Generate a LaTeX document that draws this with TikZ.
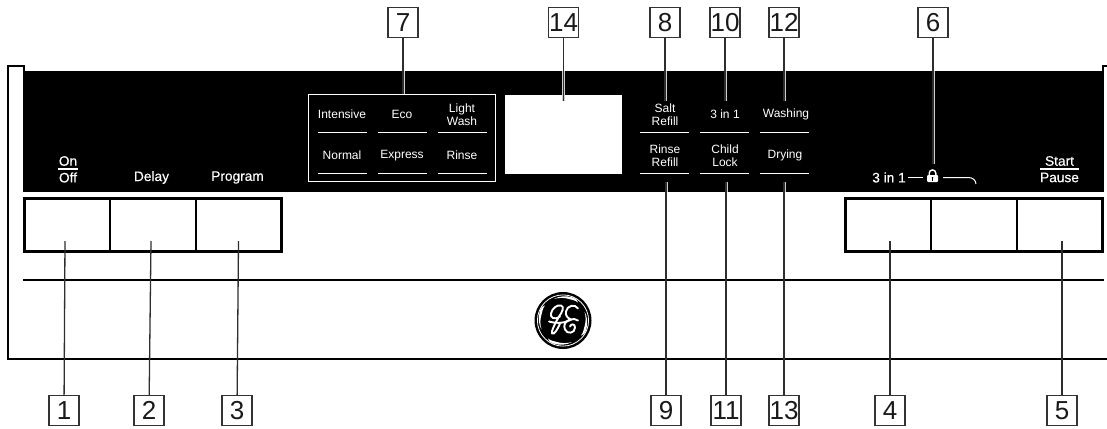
\documentclass[tikz,border=0pt]{standalone}
\usepackage{fontspec}
\setmainfont{Liberation Sans}
\newfontface\keyface{Liberation Sans}[FakeBold=0.25]
\newcommand{\smalltxt}{\fontsize{12}{13.2}\selectfont}
\newcommand{\midtxt}{\keyface\fontsize{13.7}{15}\selectfont}
\tikzset{
  numbox/.style={draw=black!80,line width=1.2pt,fill=white,minimum width=30pt,minimum height=30pt,inner sep=0pt,font=\fontsize{26}{26}\selectfont,text=black!90},
  paneltxt/.style={text=white,font=\smalltxt,align=center,inner sep=0pt},
  keytxt/.style={text=white,font=\midtxt,align=center,inner sep=0pt},
  rulew/.style={draw=white,line width=1pt},
  heavy/.style={draw=black,line width=2.2pt},
  leader/.style={draw=black!82,line width=1.3pt},
  halo/.style={draw=white!80!black,line width=3pt},
  logoline/.style={draw=white,line width=1.9pt,line cap=round,line join=round},
}
\begin{document}
\begin{tikzpicture}[x=1pt,y=-1pt]
\useasboundingbox (0,0) rectangle (1107,428);
% housing
\draw[heavy] (24,71) -- (24,66) -- (8,66) -- (8,359) -- (1107,359);
\draw[heavy] (1103,71) -- (1103,66) -- (1107,66);
\fill[black] (23,71) rectangle (1104,191.5);
\node[fill=white,minimum width=117pt,minimum height=79pt,inner sep=0pt] (display) at (563.5,134.5) {};
% button strips
\draw[black,line width=3pt] (24,198) rectangle (281,251);
\draw[black,line width=1.5pt] (110,198) -- (110,251) (196,198) -- (196,251);
\draw[black,line width=3pt] (845,198) rectangle (1102,251);
\draw[black,line width=1.5pt] (931,198) -- (931,251) (1017,198) -- (1017,251);
\draw[heavy] (23,280) -- (1104,280);
% panel box
\node[draw=white,line width=1pt,minimum width=187pt,minimum height=87pt,inner sep=0pt] (panel) at (402,137.5) {};
% number boxes
\node[numbox] (n1) at (64,410.5) {1};
\node[numbox] (n2) at (149,410.5) {2};
\node[numbox] (n3) at (237,410.5) {3};
\node[numbox] (n4) at (890,410.5) {4};
\node[numbox] (n5) at (1062,410.5) {5};
\node[numbox] (n6) at (933,22.5) {6};
\node[numbox] (n7) at (403,22.5) {7};
\node[numbox] (n8) at (665,22.5) {8};
\node[numbox] (n9) at (666,410.5) {9};
\node[numbox] (n10) at (725,22.5) {10};
\node[numbox] (n11) at (726,410.5) {11};
\node[numbox] (n12) at (784,22.5) {12};
\node[numbox] (n13) at (784,410.5) {13};
\node[numbox] (n14) at (563.5,22.5) {14};
% connector free ends
\coordinate (e1) at (65,241);
\coordinate (e2) at (151,241);
\coordinate (e3) at (238.5,241);
\coordinate (e4) at (890,241);
\coordinate (e5) at (1062,241);
\coordinate (e6) at (933,164);
\coordinate (e7) at (403,93.5);
\coordinate (e8) at (665,101);
\coordinate (e9) at (666,182);
\coordinate (e10) at (725,101);
\coordinate (e11) at (726,182);
\coordinate (e12) at (784,101);
\coordinate (e13) at (784,182);
\coordinate (e14) at (563.5,101);
% white halo where connectors cross the black band
\begin{scope}
\clip (23,71) rectangle (1104,191.5);
\foreach \k in {6,7,8,9,10,11,12,13,14}{
  \draw[halo] (n\k) -- (e\k);
}
\end{scope}
\foreach \k in {1,2,3,4,5,6,7,8,9,10,11,12,13,14}{
  \draw[leader] (n\k) -- (e\k);
}
% cycle labels
\node[paneltxt] (t1) at (342,114.5) {Intensive};
\node[paneltxt] (t2) at (402,114.5) {Eco};
\node[paneltxt] (t3) at (462,115) {Light\\Wash};
\node[paneltxt] (t4) at (342,155.5) {Normal};
\node[paneltxt] (t5) at (402,155.5) {Express};
\node[paneltxt] (t6) at (462,155.5) {Rinse};
\node[paneltxt] (t7) at (665,115) {Salt\\Refill};
\node[paneltxt] (t8) at (725,114.5) {3 in 1};
\node[paneltxt] (t9) at (786,114.5) {Washing};
\node[paneltxt] (t10) at (665,156) {Rinse\\Refill};
\node[paneltxt] (t11) at (725,156) {Child\\Lock};
\node[paneltxt] (t12) at (785,155.5) {Drying};
\foreach \a/\b in {318/367,378/427,438/487,640/689,700/749,760/809}{
  \draw[rulew] (\a,132.5) -- (\b,132.5);
  \draw[rulew] (\a,173.5) -- (\b,173.5);
}
% key labels
\node[keytxt] (on) at (68,161) {On};
\node[keytxt] (off) at (68,177.5) {Off};
\draw[white,line width=1.4pt] (58,169) -- (78,169);
\node[keytxt] (delay) at (151.5,177.5) {Delay};
\node[keytxt] (prog) at (237.5,177.5) {Program};
\node[keytxt] (start) at (1059.5,161) {Start};
\node[keytxt] (pause) at (1059.5,177.5) {Pause};
\draw[white,line width=1.4pt] (1040,169) -- (1079,169);
\node[keytxt] (three) at (889,177.5) {3 in 1};
\draw[rulew] (908,177.5) -- (923,177.5);
% padlock
\fill[white,rounded corners=1pt] (927,175) rectangle (938,182);
\draw[white,line width=1.4pt] (929.2,175.5) -- (929.2,173.2) arc[start angle=180,end angle=360,radius=3.3] -- (935.8,175.5);
\fill[black] (932.5,177.8) circle (1pt);
\draw[black,line width=.7pt] (932.5,178) -- (932.5,180.5);
\draw[rulew] (943,177.5) -- (968,177.5) .. controls (973,177.5) and (975.5,180) .. (976,184);
% GE logo
\begin{scope}[shift={(563,320.5)}]
\fill[black] (0,0) circle (28.5);
\draw[white,line width=.8pt] (0,0) circle (25.6);
% scrolls
\fill[white] (-9,-21.5) .. controls (-4,-24.5) and (3,-25) .. (10,-23) .. controls (13,-22) and (15,-20) .. (15,-18) .. controls (12,-20.5) and (9,-20.5) .. (6,-21.5) .. controls (1,-23) and (-4,-23) .. cycle;
\fill[white] (21.5,-9) .. controls (24.5,-4) and (25,3) .. (23,10) .. controls (22,13) and (20,15) .. (18,15) .. controls (20.5,12) and (20.5,9) .. (21.5,6) .. controls (23,1) and (23,-4) .. cycle;
\fill[white] (9,21.5) .. controls (4,24.5) and (-3,25) .. (-10,23) .. controls (-13,22) and (-15,20) .. (-15,18) .. controls (-12,20.5) and (-9,20.5) .. (-6,21.5) .. controls (-1,23) and (4,23) .. cycle;
\fill[white] (-21.5,9) .. controls (-24.5,4) and (-25,-3) .. (-23,-10) .. controls (-22,-13) and (-20,-15) .. (-18,-15) .. controls (-20.5,-12) and (-20.5,-9) .. (-21.5,-6) .. controls (-23,-1) and (-23,4) .. cycle;
% g
\draw[logoline] (-3,-4) .. controls (-9,0) and (-13,-3) .. (-12,-7) .. controls (-11,-12) and (-6,-16) .. (-2,-15) .. controls (2,-14) and (-1,-8) .. (-4,-4) .. controls (-8,3) and (-12,11) .. (-11,13) .. controls (-9,15) and (-5,8) .. (-3,3);
% crossbar and E
\draw[logoline] (-14,1) .. controls (-8,3) and (1,3) .. (6,0) .. controls (10,-2) and (13,-2) .. (15,0);
\draw[logoline] (15,-12) .. controls (12,-17) and (4,-15) .. (3,-9) .. controls (2,-5) and (5,-2) .. (8,-1) .. controls (2,0) and (0,5) .. (2,9) .. controls (4,14) and (12,13) .. (12,7) .. controls (12,3) and (8,3) .. (7,6);
\end{scope}
\end{tikzpicture}
\end{document}
